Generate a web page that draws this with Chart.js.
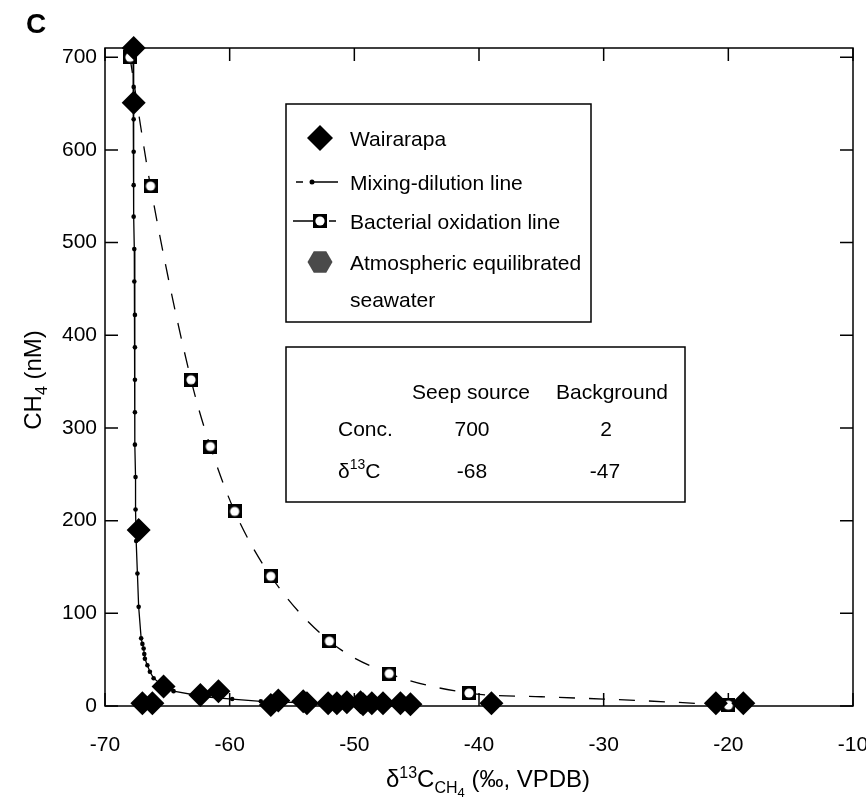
<!DOCTYPE html>
<html><head><meta charset="utf-8">
<script src="https://cdn.jsdelivr.net/npm/chart.js@4.4.1/dist/chart.umd.min.js"></script>
<style>html,body{margin:0;padding:0;background:#fff}canvas{display:block}</style>
</head><body>
<canvas id="c" width="866" height="800"></canvas>
<script>
// ---- data ----
const xTicks = [-70, -60, -50, -40, -30, -20, -10];
const yTicks = [0, 100, 200, 300, 400, 500, 600, 700];

// Wairarapa samples (filled diamonds)
const wairX = [-67.7, -67.7, -67.3, -67.0, -66.2, -65.3, -62.35, -60.9, -56.7, -56.1, -54.1, -53.8, -52.1, -51.4, -50.6, -49.5, -49.3, -48.6, -47.7, -46.3, -45.5, -39.0, -21.0, -18.8];
const wairY = [710, 651, 190, 3, 3, 21, 12, 16, 1, 6, 5, 3, 3, 3, 4, 4, 2, 3, 3, 3, 2, 3, 3, 3];

// Mixing-dilution line (solid with small dots)
const mixX = [-67.75, -67.7, -67.7, -67.7, -67.7, -67.7, -67.65, -67.65, -67.6, -67.6, -67.6, -67.6, -67.6, -67.55, -67.55, -67.5, -67.4, -67.3, -67.1, -67.0, -66.9, -66.85, -66.8, -66.6, -66.4, -66.1, -65.3, -64.5, -62.0, -59.8, -57.5, -54.0, -47.0];
const mixY = [700, 668, 633, 598, 562, 528, 493, 458, 422, 387, 352, 317, 282, 247, 212, 178, 143, 107, 73, 67, 62, 56, 51, 44, 37, 30, 21, 16, 10, 7.5, 5, 3.5, 2];

// Bacterial oxidation line (dashed, square markers)
const bactX = [-68.0, -66.35, -63.1, -61.55, -59.6, -56.7, -52.0, -47.2, -40.8, -35.0, -30.0, -25.0, -20.0];
const bactY = [700, 561, 352, 280, 210, 140, 70, 35, 14, 10, 7.5, 4.5, 1];
const bactMarker = [1, 1, 1, 1, 1, 1, 1, 1, 1, 0, 0, 0, 1];

const legendLabels = ['Wairarapa', 'Mixing-dilution line', 'Bacterial oxidation line', 'Atmospheric equilibrated', 'seawater'];
const tableCols = ['Seep source', 'Background'];
const tableConc = ['700', '2'];
const tableD13C = ['-68', '-47'];

const FONT = '"Liberation Sans", Arial, Helvetica, sans-serif';
function toPts(xs, ys) { return xs.map((x, i) => ({ x: x, y: ys[i] })); }

// square marker with white round centre
const bm = document.createElement('canvas'); bm.width = 14; bm.height = 14;
(function () { const b = bm.getContext('2d'); b.fillStyle = '#000'; b.fillRect(0, 0, 14, 14); b.fillStyle = '#fff'; b.beginPath(); b.arc(7, 7, 4.6, 0, Math.PI * 2); b.fill(); })();

function rich(ctx, parts, x, y, align) {
  let w = 0;
  parts.forEach(p => { ctx.font = (p.b || '') + ' ' + p.s + 'px ' + FONT; p.width = ctx.measureText(p.t).width; w += p.width; });
  let cx = align === 'center' ? x - w / 2 : (align === 'right' ? x - w : x);
  ctx.textAlign = 'left'; ctx.textBaseline = 'alphabetic';
  parts.forEach(p => { ctx.font = (p.b || '') + ' ' + p.s + 'px ' + FONT; ctx.fillText(p.t, cx, y + (p.dy || 0)); cx += p.width; });
}

const frame = {
  id: 'frame',
  beforeDatasetsDraw(chart) {
    const ctx = chart.ctx, a = chart.chartArea, x = chart.scales.x, y = chart.scales.y;
    ctx.save(); ctx.strokeStyle = '#000'; ctx.lineWidth = 1.5;
    ctx.strokeRect(a.left, a.top, a.right - a.left, a.bottom - a.top);
    ctx.beginPath();
    const L = 13;
    xTicks.forEach(v => { const px = x.getPixelForValue(v); ctx.moveTo(px, a.bottom); ctx.lineTo(px, a.bottom - L); ctx.moveTo(px, a.top); ctx.lineTo(px, a.top + L); });
    yTicks.forEach(v => { const py = y.getPixelForValue(v); ctx.moveTo(a.left, py); ctx.lineTo(a.left + L, py); ctx.moveTo(a.right, py); ctx.lineTo(a.right - L, py); });
    ctx.stroke(); ctx.restore();
  }
};

const annot = {
  id: 'annot',
  afterDraw(chart) {
    const ctx = chart.ctx;
    ctx.save();
    ctx.fillStyle = '#000'; ctx.strokeStyle = '#000';
    // panel letter
    rich(ctx, [{ t: 'C', s: 28, b: 'bold' }], 26, 33, 'left');
    // x title
    rich(ctx, [{ t: 'δ', s: 24 }, { t: '13', s: 16, dy: -9 }, { t: 'C', s: 24 }, { t: 'CH', s: 16, dy: 6 }, { t: '4', s: 13, dy: 10 }, { t: ' (‰, VPDB)', s: 24 }], 488, 787, 'center');
    // y title
    ctx.save(); ctx.translate(41, 380); ctx.rotate(-Math.PI / 2);
    rich(ctx, [{ t: 'CH', s: 24 }, { t: '4', s: 16, dy: 6 }, { t: ' (nM)', s: 24 }], 0, 0, 'center');
    ctx.restore();

    // legend box
    ctx.fillStyle = '#fff'; ctx.fillRect(286, 104, 305, 218);
    ctx.lineWidth = 1.5; ctx.strokeRect(286, 104, 305, 218);
    ctx.fillStyle = '#000';
    const ly = [138, 182, 221, 262, 299];
    ctx.beginPath(); ctx.moveTo(307, ly[0]); ctx.lineTo(320, ly[0] - 13); ctx.lineTo(333, ly[0]); ctx.lineTo(320, ly[0] + 13); ctx.closePath(); ctx.fill();
    ctx.lineWidth = 1.3;
    ctx.beginPath(); ctx.moveTo(296, ly[1]); ctx.lineTo(303, ly[1]); ctx.moveTo(312, ly[1]); ctx.lineTo(338, ly[1]); ctx.stroke();
    ctx.beginPath(); ctx.arc(312, ly[1], 2.5, 0, Math.PI * 2); ctx.fill();
    ctx.beginPath(); ctx.moveTo(293, ly[2]); ctx.lineTo(313, ly[2]); ctx.moveTo(329, ly[2]); ctx.lineTo(336, ly[2]); ctx.stroke();
    ctx.drawImage(bm, 313, ly[2] - 7);
    ctx.fillStyle = '#4a4a4a'; ctx.beginPath();
    for (let k = 0; k < 6; k++) { const t = k * Math.PI / 3; const px = 320 + 12.5 * Math.cos(t), py = ly[3] + 12.5 * Math.sin(t); if (k) ctx.lineTo(px, py); else ctx.moveTo(px, py); }
    ctx.closePath(); ctx.fill();
    ctx.fillStyle = '#000';
    legendLabels.forEach((s, i) => rich(ctx, [{ t: s, s: 21 }], 350, ly[i] + 7.5, 'left'));

    // table box
    ctx.fillStyle = '#fff'; ctx.fillRect(286, 347, 399, 155);
    ctx.lineWidth = 1.5; ctx.strokeRect(286, 347, 399, 155);
    ctx.fillStyle = '#000';
    const cx = [471, 612];
    tableCols.forEach((s, i) => rich(ctx, [{ t: s, s: 21 }], cx[i], 391 + 7.5, 'center'));
    rich(ctx, [{ t: 'Conc.', s: 21 }], 338, 428 + 7.5, 'left');
    rich(ctx, [{ t: tableConc[0], s: 21 }], 472, 428 + 7.5, 'center');
    rich(ctx, [{ t: tableConc[1], s: 21 }], 606, 428 + 7.5, 'center');
    rich(ctx, [{ t: 'δ', s: 21 }, { t: '13', s: 14, dy: -9 }, { t: 'C', s: 21 }], 338, 470 + 7.5, 'left');
    rich(ctx, [{ t: tableD13C[0], s: 21 }], 472, 470 + 7.5, 'center');
    rich(ctx, [{ t: tableD13C[1], s: 21 }], 605, 470 + 7.5, 'center');
    ctx.restore();
  }
};

new Chart(document.getElementById('c'), {
  type: 'scatter',
  data: {
    datasets: [
      { label: 'Wairarapa', data: toPts(wairX, wairY), pointStyle: 'rectRot', pointRadius: 12, backgroundColor: '#000', borderColor: '#000', borderWidth: 0, showLine: false, order: 0, clip: false },
      { label: 'Bacterial oxidation line', data: toPts(bactX, bactY), showLine: true, borderColor: '#000', backgroundColor: '#000', borderWidth: 1.3, borderDash: [16, 14], cubicInterpolationMode: 'monotone', pointStyle: bm, pointRadius: bactMarker.map(m => m ? 7 : 0), order: 1, clip: false },
      { label: 'Mixing-dilution line', data: toPts(mixX, mixY), showLine: true, borderColor: '#000', backgroundColor: '#000', borderWidth: 1.3, pointStyle: 'circle', pointRadius: 2.3, pointBorderWidth: 0, order: 2, clip: false }
    ]
  },
  options: {
    responsive: false, animation: false, devicePixelRatio: 1,
    layout: { padding: { left: 0, right: 13, top: 48, bottom: 0 } },
    plugins: { legend: { display: false }, tooltip: { enabled: false } },
    scales: {
      x: {
        type: 'linear', min: -70, max: -10,
        grid: { display: false, drawTicks: false }, border: { display: false },
        afterBuildTicks(s) { s.ticks = xTicks.map(v => ({ value: v })); },
        afterFit(s) { s.height = 94; s.paddingLeft = 0; s.paddingRight = 0; },
        ticks: { padding: 27, color: '#000', font: { family: FONT, size: 21 }, maxRotation: 0, autoSkip: false }
      },
      y: {
        type: 'linear', min: 0, max: 710,
        grid: { display: false, drawTicks: false }, border: { display: false },
        afterBuildTicks(s) { s.ticks = yTicks.map(v => ({ value: v })); },
        afterFit(s) { s.width = 105; s.paddingTop = 0; s.paddingBottom = 0; },
        ticks: { padding: 8, color: '#000', font: { family: FONT, size: 21 }, autoSkip: false }
      }
    }
  },
  plugins: [frame, annot]
});
</script>
</body></html>
